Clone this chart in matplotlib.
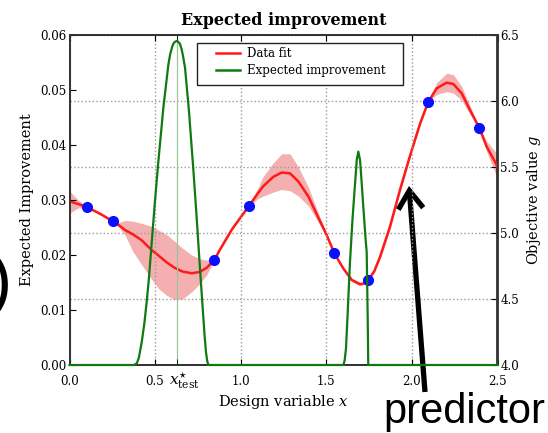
import matplotlib
matplotlib.use("Agg")
import matplotlib.pyplot as plt
from matplotlib.patches import FancyArrowPatch, ArrowStyle, Rectangle
from matplotlib.lines import Line2D
from matplotlib.transforms import ScaledTranslation

plt.rcParams['font.family'] = 'DejaVu Serif'
plt.rcParams['mathtext.fontset'] = 'dejavuserif'

# ---- surrogate fit (objective value g) ----
fit_x = [0.00, 0.05, 0.104, 0.18, 0.254, 0.29, 0.324, 0.37, 0.422, 0.48, 0.519, 0.57,
         0.616, 0.66, 0.714, 0.76, 0.80, 0.846, 0.879, 0.95, 1.048, 1.10, 1.132, 1.19,
         1.239, 1.288, 1.337, 1.396, 1.454, 1.502, 1.547, 1.60, 1.648, 1.697, 1.72,
         1.745, 1.78, 1.814, 1.872, 1.931, 1.989, 2.048, 2.096, 2.145, 2.203, 2.242,
         2.291, 2.339, 2.394, 2.437, 2.485, 2.50]
fit_g = [5.24, 5.22, 5.195, 5.145, 5.088, 5.058, 5.023, 4.99, 4.945, 4.87, 4.83, 4.775,
         4.735, 4.708, 4.695, 4.705, 4.735, 4.795, 4.875, 5.03, 5.205, 5.30, 5.355, 5.425,
         5.458, 5.452, 5.39, 5.275, 5.115, 4.985, 4.846, 4.73, 4.645, 4.612, 4.618,
         4.644, 4.71, 4.82, 5.048, 5.33, 5.585, 5.83, 5.995, 6.096, 6.139, 6.129,
         6.058, 5.932, 5.795, 5.654, 5.540, 5.50]
fit_lo = [5.15, 5.19, 5.19, 5.135, 5.085, 5.04, 4.985, 4.86, 4.758, 4.65, 4.58, 4.525,
          4.495, 4.50, 4.555, 4.615, 4.68, 4.79, 4.865, 5.02, 5.20, 5.26, 5.28, 5.31,
          5.33, 5.32, 5.28, 5.205, 5.08, 4.97, 4.842, 4.72, 4.632, 4.60, 4.61,
          4.64, 4.70, 4.80, 5.025, 5.31, 5.565, 5.815, 5.99, 6.05, 6.07, 6.06,
          6.005, 5.90, 5.79, 5.615, 5.46, 5.41]
fit_hi = [5.32, 5.25, 5.20, 5.155, 5.091, 5.08, 5.095, 5.09, 5.073, 5.05, 5.023, 4.985,
          4.935, 4.885, 4.833, 4.805, 4.795, 4.80, 4.885, 5.04, 5.21, 5.34, 5.43, 5.53,
          5.60, 5.60, 5.50, 5.345, 5.15, 5.00, 4.850, 4.745, 4.658, 4.625, 4.63,
          4.648, 4.72, 4.84, 5.07, 5.35, 5.605, 5.845, 6.0, 6.14, 6.21, 6.20,
          6.11, 5.965, 5.80, 5.695, 5.62, 5.59]

# ---- sampled designs ----
data_x = [0.104, 0.254, 0.846, 1.048, 1.547, 1.745, 2.096, 2.394]
data_g = [5.195, 5.088, 4.795, 5.205, 4.846, 4.644, 5.995, 5.795]

# ---- expected improvement ----
ei_x = [0.0, 0.373, 0.383, 0.393, 0.405, 0.422, 0.437, 0.451, 0.464, 0.476, 0.499,
        0.519, 0.548, 0.577, 0.588, 0.600, 0.608, 0.618, 0.626, 0.634, 0.645, 0.655,
        0.663, 0.675, 0.698, 0.723, 0.743, 0.762, 0.782, 0.790, 0.797, 0.804, 0.811,
        1.600, 1.607, 1.615, 1.623, 1.638, 1.653, 1.668, 1.678, 1.687, 1.697, 1.707,
        1.716, 1.730, 1.736, 1.742, 1.745, 2.5]
ei_y = [0.0, 0.0, 0.0001, 0.0003, 0.0013, 0.0042, 0.0075, 0.0115, 0.0158, 0.0206, 0.0297,
        0.0370, 0.0467, 0.0545, 0.0565, 0.0579, 0.0585, 0.0588, 0.0589, 0.0588, 0.0584, 0.0574,
        0.0562, 0.0540, 0.0461, 0.0357, 0.0267, 0.0176, 0.0085, 0.0050, 0.0024, 0.0008, 0.0,
        0.0, 0.0008, 0.003, 0.0082, 0.0185, 0.0265, 0.0330, 0.0373, 0.0388, 0.0373, 0.0330,
        0.0288, 0.0227, 0.0205, 0.0082, 0.0, 0.0]

x_test = 0.626
x_ticks = [0.0, 0.5, 1.0, 1.5, 2.0, 2.5]
ei_ticks = [0.00, 0.01, 0.02, 0.03, 0.04, 0.05, 0.06]
g_ticks = [4.0, 4.5, 5.0, 5.5, 6.0, 6.5]

W, H = 548, 433
fig = plt.figure(figsize=(W / 100, H / 100), dpi=100)
fig.patch.set_facecolor('white')
ax1 = fig.add_axes([69.5 / W, 1 - 365 / H, 428 / W, 330 / H])
ax2 = ax1.twinx()
ax1.set_zorder(ax2.get_zorder() + 1)
ax1.patch.set_visible(False)

# objective axis: band, fit, samples
ax2.fill_between(fit_x, fit_lo, fit_hi, color='#f4b0b0', lw=0, zorder=1)
ax2.plot(fit_x, fit_g, color='#ff1a1a', lw=1.8, zorder=3)
ax2.plot(data_x, data_g, 'o', color='#0a10ff', ms=7, mec='#0a10ff', zorder=4)
ax2.set_ylim(4.0, 6.5)
ax2.set_yticks(g_ticks)
ax2.set_yticklabels([f'{v:.1f}' for v in g_ticks])
ax2.grid(axis='y', ls=':', color='#9a9a9a', lw=1.0)
ax2.set_ylabel('Objective value $g$', fontsize=10.5, labelpad=4)
ax2.tick_params(axis='y', direction='in', length=4, pad=2, labelsize=8.5)

# expected improvement axis
ax1.axvline(x_test, color='#9cc49c', lw=0.9, zorder=1)
ax1.plot(ei_x, ei_y, color='#0f7a0f', lw=1.6, zorder=5, clip_on=False)
ax1.set_xlim(0, 2.5)
ax1.set_ylim(0, 0.06)
ax1.set_yticks(ei_ticks)
ax1.set_yticklabels([f'{v:.2f}' for v in ei_ticks])
ax1.set_xticks(x_ticks)
ax1.set_xticklabels([f'{v:.1f}' for v in x_ticks])
ax1.set_xticks([x_test], minor=True)
ax1.set_xticklabels([r'$x^{\star}_{\rm test}$'], minor=True)
ax1.grid(axis='x', which='major', ls=':', color='#9a9a9a', lw=1.0)
ax1.tick_params(axis='x', which='both', direction='in', top=True, length=4, pad=7, labelsize=8.5)
ax1.tick_params(axis='x', which='minor', pad=4, labelsize=11)
ax1.tick_params(axis='y', direction='in', length=4, pad=2.5, labelsize=8.5)
for lab in ax1.get_xticklabels(minor=True):
    lab.set_transform(lab.get_transform() + ScaledTranslation(8 / 100, 0, fig.dpi_scale_trans))
ax1.set_xlabel('Design variable $x$', fontsize=10.5, labelpad=1)
ax1.set_ylabel('Expected Improvement', fontsize=10.5, labelpad=4)
ax1.set_title('Expected improvement', fontsize=11.5, fontweight='bold', pad=7)

for ax in (ax1, ax2):
    for sp in ax.spines.values():
        sp.set_linewidth(1.3)
        sp.set_color('#333333')

# legend entries with a separately drawn frame
handles = [Line2D([], [], color='#ff1a1a', lw=1.8),
           Line2D([], [], color='#0f7a0f', lw=1.8)]
leg = ax1.legend(handles, ['Data fit', 'Expected improvement'], loc='upper left',
                 bbox_to_anchor=((214 - 69.5) / 428, (365 - 45) / 330), borderaxespad=0,
                 frameon=False, fontsize=8.5, handlelength=2.0, borderpad=0.2,
                 labelspacing=0.35, handletextpad=0.6)
ax1.add_patch(Rectangle(((197 - 69.5) / 428, (365 - 85) / 330), 206 / 428, 42 / 330,
                        transform=ax1.transAxes, facecolor='white', edgecolor='#222222',
                        lw=1.0, zorder=6))
leg.set_zorder(7)

# slide annotations around the chart
arrow = FancyArrowPatch((425 / W, 1 - 392 / H), (409 / W, 1 - 186 / H),
                        transform=fig.transFigure,
                        arrowstyle=ArrowStyle('->', head_length=0.65, head_width=0.45),
                        mutation_scale=20, lw=3.8, color='black',
                        shrinkA=0, shrinkB=0, capstyle='butt', joinstyle='miter')
fig.add_artist(arrow)
fig.text(383 / W, 1 - 423 / H, 'predictor', fontsize=30, family='Liberation Sans',
         ha='left', va='baseline', color='black')
fig.text(11.5 / W, 1 - 303 / H, ')', fontsize=50, family='Liberation Sans',
         ha='right', va='baseline', color='black')

fig.savefig('out.png', dpi=100, facecolor='white')
